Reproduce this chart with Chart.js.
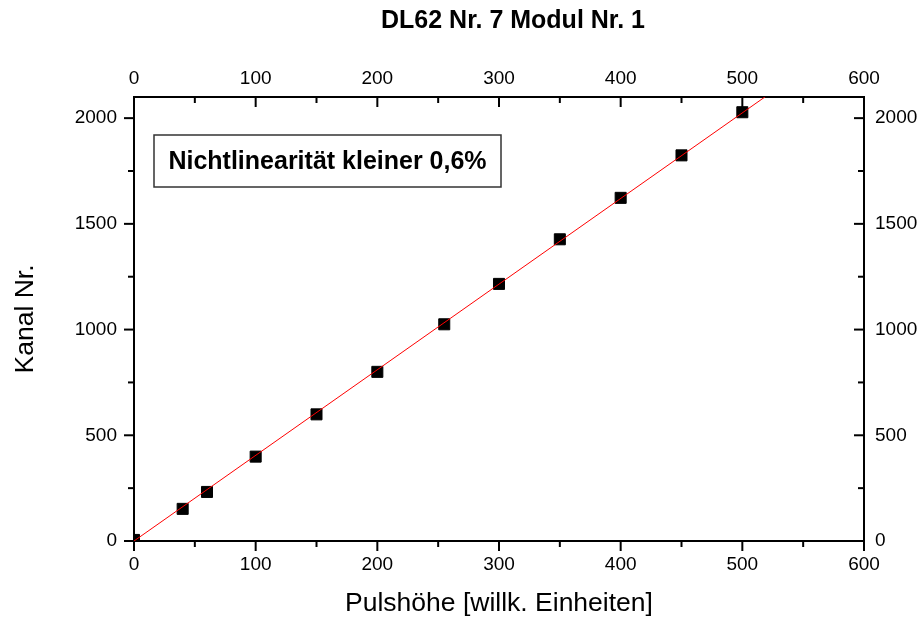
<!DOCTYPE html>
<html>
<head>
<meta charset="utf-8">
<title>DL62 Nr. 7 Modul Nr. 1</title>
<script src="https://cdn.jsdelivr.net/npm/chart.js@4.4.1/dist/chart.umd.min.js"></script>
<style>
  html, body { margin: 0; padding: 0; background: #fff; }
  #wrap { width: 920px; height: 617px; }
</style>
</head>
<body>
<div id="wrap"><canvas id="chart"></canvas></div>
<script>
// Measured points: pulse height vs. channel number
const pulseHeights = [0, 40, 60, 100, 150, 200, 255, 300, 350, 400, 450, 500];
const channels = [5, 152, 232, 399, 599, 800, 1025, 1216, 1427, 1623, 1824, 2028];

// Endpoints of the linear fit (clipped by the plot area)
const fitX = [0, 600];
const fitY = [0, 2430];

// Axis ticks
const xMajor = [0, 100, 200, 300, 400, 500, 600];
const xMinor = [50, 150, 250, 350, 450, 550];
const yMajor = [0, 500, 1000, 1500, 2000];
const yMinor = [250, 750, 1250, 1750];

const titleText = 'DL62 Nr. 7 Modul Nr. 1';
const noteText = 'Nichtlinearität kleiner 0,6%';
const xTitle = 'Pulshöhe [willk. Einheiten]';
const yTitle = 'Kanal Nr.';

const FONT = '"Liberation Sans", Arial, Helvetica, sans-serif';

// fixed axis box sizes so the plot area lands where we want it
function fixSize(size) {
    return function (scale) {
        if (scale.isHorizontal()) scale.height = size;
        else scale.width = size;
    };
}

function useTicks(values) {
    return function (scale) {
        scale.ticks = values.map(v => ({ value: v }));
    };
}

// Origin-style tick marks: outside on left/bottom, inside on top/right
const tickMarks = {
    id: 'tickMarks',
    afterDraw(chart) {
        const { ctx, chartArea: a, scales } = chart;
        ctx.save();
        ctx.strokeStyle = '#000';
        ctx.lineWidth = 2;
        const mark = (x1, y1, x2, y2) => {
            ctx.beginPath();
            ctx.moveTo(x1, y1);
            ctx.lineTo(x2, y2);
            ctx.stroke();
        };
        const xTicks = (vals, len) => vals.forEach(v => {
            const pb = scales.x.getPixelForValue(v);
            const pt = scales.x2.getPixelForValue(v);
            mark(pb, a.bottom, pb, a.bottom + len);
            mark(pt, a.top, pt, a.top + len);
        });
        const yTicks = (vals, len) => vals.forEach(v => {
            const pl = scales.y.getPixelForValue(v);
            const pr = scales.y2.getPixelForValue(v);
            mark(a.left - len, pl, a.left, pl);
            mark(a.right - len, pr, a.right, pr);
        });
        xTicks(xMajor, 10);
        xTicks(xMinor, 6);
        yTicks(yMajor, 10);
        yTicks(yMinor, 6);
        ctx.restore();
    }
};

// Chart title and the boxed note in the upper left
const labels = {
    id: 'labels',
    afterDraw(chart) {
        const { ctx, chartArea: a } = chart;
        ctx.save();
        ctx.fillStyle = '#000';
        ctx.textAlign = 'center';
        ctx.textBaseline = 'middle';
        ctx.font = 'bold 25px ' + FONT;
        ctx.fillText(titleText, (a.left + a.right) / 2 + 14, 21);

        const bx = a.left + 20, by = a.top + 38, bw = 347, bh = 52;
        ctx.fillStyle = '#fff';
        ctx.fillRect(bx, by, bw, bh);
        ctx.strokeStyle = '#333';
        ctx.lineWidth = 1.5;
        ctx.strokeRect(bx, by, bw, bh);
        ctx.fillStyle = '#000';
        ctx.fillText(noteText, bx + bw / 2, by + bh / 2 + 1);
        ctx.restore();
    }
};

const axisBorder = { display: true, color: '#000', width: 2 };
const noGrid = { drawOnChartArea: false, drawTicks: false };
const tickFont = { family: FONT, size: 19 };
const titleFont = { family: FONT, size: 26.5, lineHeight: 1 };
const plain = v => String(v);

new Chart(document.getElementById('chart'), {
    type: 'scatter',
    data: {
        datasets: [
            {
                label: 'Fit',
                data: fitX.map((x, i) => ({ x: x, y: fitY[i] })),
                showLine: true,
                borderColor: '#ff0000',
                borderWidth: 1,
                pointRadius: 0,
                order: 0
            },
            {
                label: 'Messwerte',
                data: pulseHeights.map((x, i) => ({ x: x, y: channels[i] })),
                pointStyle: 'rect',
                pointRadius: 7.8,
                backgroundColor: '#000',
                borderColor: '#000',
                borderWidth: 1,
                order: 1
            }
        ]
    },
    options: {
        responsive: true,
        maintainAspectRatio: false,
        animation: false,
        layout: { padding: 0 },
        plugins: {
            legend: { display: false },
            tooltip: { enabled: false },
            title: { display: false }
        },
        scales: {
            x: {
                type: 'linear',
                position: 'bottom',
                min: 0,
                max: 600,
                afterBuildTicks: useTicks(xMajor),
                afterFit: fixSize(76),
                grid: noGrid,
                border: axisBorder,
                ticks: { color: '#000', font: tickFont, padding: 12, maxRotation: 0, callback: plain },
                title: { display: true, text: xTitle, color: '#000', font: titleFont, padding: { top: 0, bottom: 0 } }
            },
            x2: {
                type: 'linear',
                position: 'top',
                min: 0,
                max: 600,
                afterBuildTicks: useTicks(xMajor),
                afterFit: fixSize(97),
                grid: noGrid,
                border: axisBorder,
                ticks: { color: '#000', font: tickFont, padding: 7, maxRotation: 0, callback: plain }
            },
            y: {
                type: 'linear',
                position: 'left',
                min: 0,
                max: 2100,
                afterBuildTicks: useTicks(yMajor),
                afterFit: fixSize(134),
                grid: noGrid,
                border: axisBorder,
                ticks: { color: '#000', font: tickFont, padding: 17, callback: plain },
                title: { display: true, text: yTitle, color: '#000', font: titleFont, padding: { top: 12, bottom: 0 } }
            },
            y2: {
                type: 'linear',
                position: 'right',
                min: 0,
                max: 2100,
                afterBuildTicks: useTicks(yMajor),
                afterFit: fixSize(56),
                grid: noGrid,
                border: axisBorder,
                ticks: { color: '#000', font: tickFont, padding: 11, callback: plain }
            }
        }
    },
    plugins: [tickMarks, labels]
});
</script>
</body>
</html>
